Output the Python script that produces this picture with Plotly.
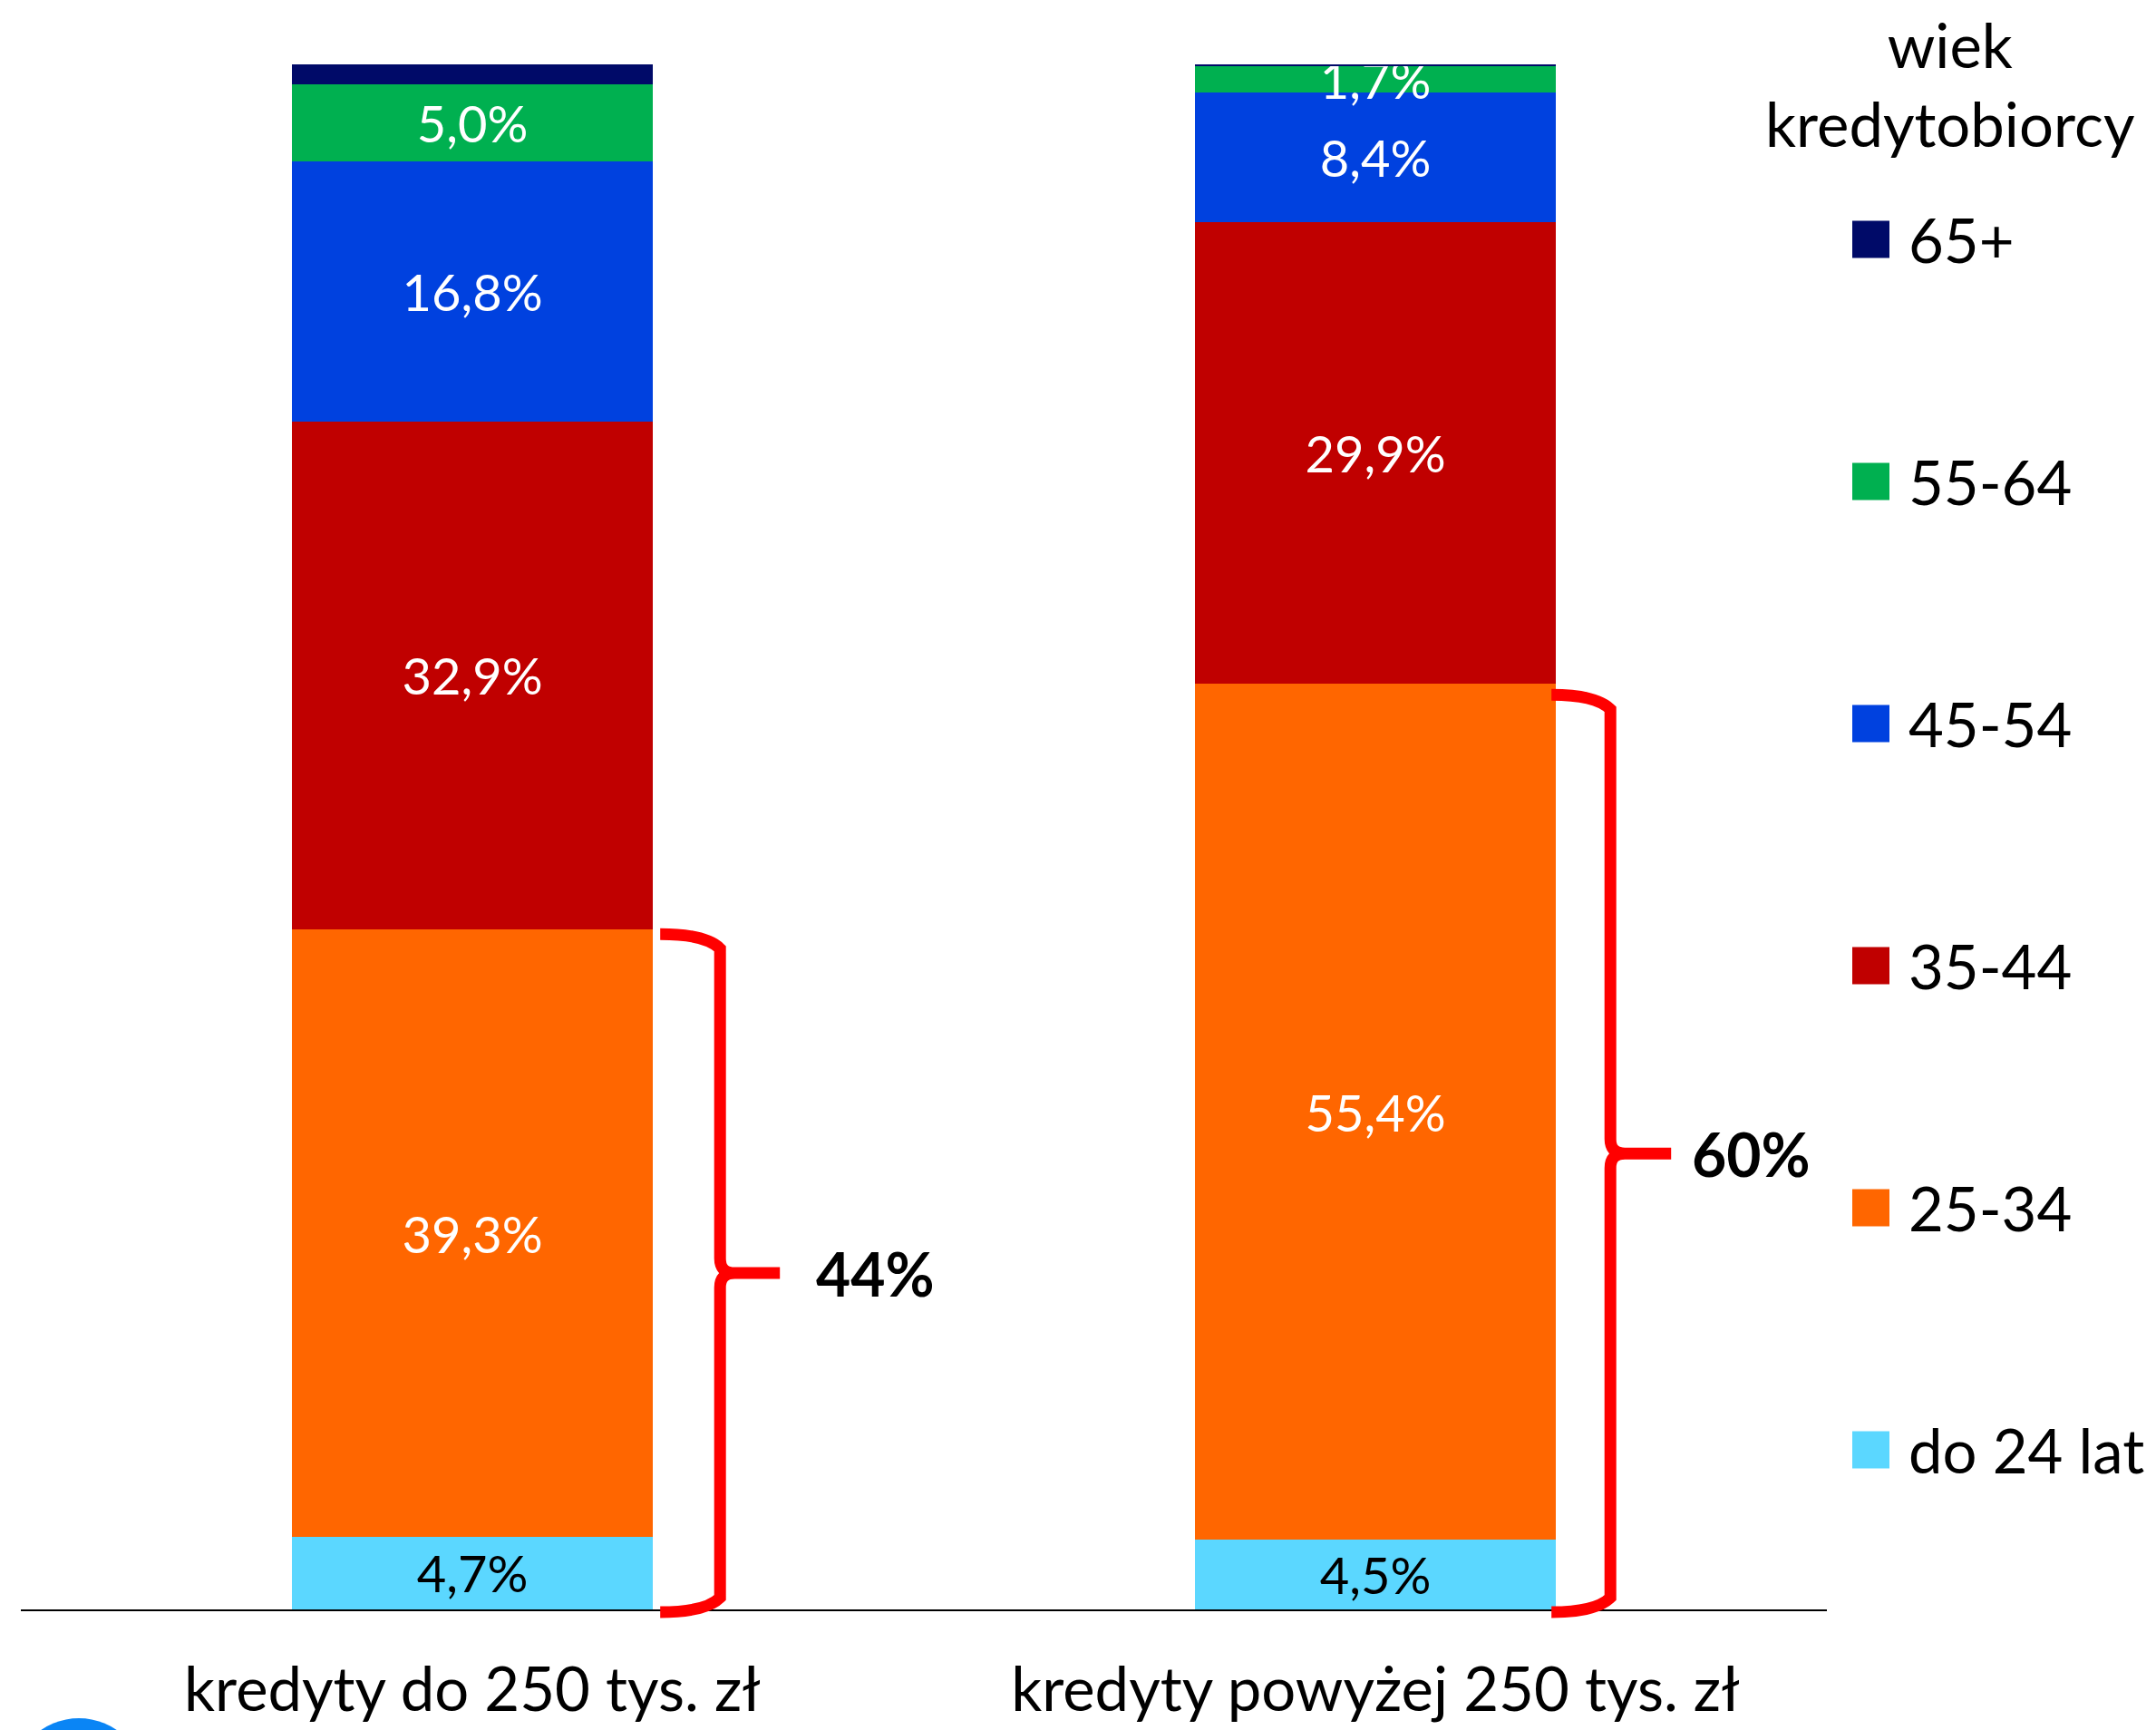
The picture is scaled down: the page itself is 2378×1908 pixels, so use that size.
import plotly.graph_objects as go

# ---------------- data ----------------
categories = ["kredyty do 250 tys. zł", "kredyty powyżej 250 tys. zł"]
age_groups = ["do 24 lat", "25-34", "35-44", "45-54", "55-64", "65+"]
share_do_24 = [4.7, 4.5]
share_25_34 = [39.3, 55.4]
share_35_44 = [32.9, 29.9]
share_45_54 = [16.8, 8.4]
share_55_64 = [5.0, 1.7]
share_65_plus = [1.3, 0.1]
legend_title = "wiek<br>kredytobiorcy"

series = [share_do_24, share_25_34, share_35_44, share_45_54, share_55_64, share_65_plus]
colors = ["#5BD7FF", "#FF6600", "#C00000", "#0041DF", "#00B050", "#000A68"]
label_colors = ["#000000", "#FFFFFF", "#FFFFFF", "#FFFFFF", "#FFFFFF", "#FFFFFF"]
show_labels = [True, True, True, True, True, False]
young_totals = [a + b for a, b in zip(share_do_24, share_25_34)]

# brace styling per bar (pixel offsets from bar edge / top)
brace_tip = [8, -5]
brace_spine = [74, 60]
brace_cusp = [140, 127]
brace_label_gap = [38, 21]
brace_top_drop = [5, 12]

FONT = "Lato"
W, H = 2378, 1908
PAGE_OFF = 8  # default body margin of the html page
PL, PR, PT, PB = 23, 2015, 71, 1775
M = dict(l=PL - PAGE_OFF, r=W - PR + PAGE_OFF, t=PT - PAGE_OFF, b=H - PB + PAGE_OFF)
plot_w = PR - PL
plot_h = PB - PT
XR = [-0.5, len(categories) - 0.5]
BARGAP = 0.6
xpx = (XR[1] - XR[0]) / plot_w
ypx = 1.0 / plot_h


def fmt(v):
    return f"{v:.1f}".replace(".", ",") + "%"


def sx(px):
    return (px - PL) / plot_w


def sy(py):
    return (PB - py) / plot_h


xs = list(range(len(categories)))
fig = go.Figure()
for name, vals, col, lc, show in zip(age_groups, series, colors, label_colors, show_labels):
    fig.add_trace(go.Bar(
        x=xs, y=vals, name=name,
        marker=dict(color=col, line=dict(width=0)),
        text=[fmt(v) for v in vals] if show else ["" for _ in vals],
        textposition="inside", insidetextanchor="middle",
        textfont=dict(family=FONT, size=56, color=lc),
        showlegend=False, hoverinfo="skip",
    ))

shapes = []
annotations = []

half = (1 - BARGAP) / 2
for i, tot in enumerate(young_totals):
    xe = i + half
    x0 = xe + brace_tip[i] * xpx
    xsp = xe + brace_spine[i] * xpx
    xc = xe + brace_cusp[i] * xpx
    yT = tot / 100.0 - brace_top_drop[i] * ypx
    yB = -3 * ypx
    yM = (yT + yB) / 2
    rx, ry = 16 * xpx, 16 * ypx
    path = (f"M {x0},{yT} Q {xsp - rx},{yT} {xsp},{yT - ry} "
            f"L {xsp},{yM + ry} Q {xsp},{yM} {xsp + rx},{yM} L {xc},{yM} "
            f"M {xsp + rx},{yM} Q {xsp},{yM} {xsp},{yM - ry} "
            f"L {xsp},{yB + ry} Q {xsp - rx},{yB} {x0},{yB}")
    shapes.append(dict(type="path", path=path, xref="x", yref="paper",
                       line=dict(color="#FF0000", width=13)))
    annotations.append(dict(x=xc + brace_label_gap[i] * xpx, y=yM, xref="x", yref="paper",
                            text=f"<b>{round(tot)}%</b>", showarrow=False,
                            xanchor="left", yanchor="middle",
                            font=dict(family=FONT, size=66, color="#000000")))

annotations.append(dict(x=sx(2150), y=sy(92), xref="paper", yref="paper",
                        text=legend_title, showarrow=False, align="center",
                        xanchor="center", yanchor="middle",
                        font=dict(family=FONT, size=67, color="#000000")))
for k, (name, col) in enumerate(zip(reversed(age_groups), reversed(colors))):
    cy = 264 + k * 267
    shapes.append(dict(type="rect", xref="paper", yref="paper",
                       x0=sx(2043), x1=sx(2084),
                       y0=sy(cy + 20.5), y1=sy(cy - 20.5),
                       fillcolor=col, line=dict(width=0)))
    annotations.append(dict(x=sx(2103), y=sy(cy), xref="paper", yref="paper",
                            text=name, showarrow=False, xanchor="left", yanchor="middle",
                            font=dict(family=FONT, size=67, color="#000000")))

shapes.append(dict(type="circle", xref="paper", yref="paper",
                   x0=sx(87 - 73), x1=sx(87 + 73),
                   y0=sy(1968 + 73), y1=sy(1968 - 73),
                   fillcolor="#0A85F5", line=dict(width=0)))

fig.update_layout(
    width=W, height=H,
    margin=dict(M, autoexpand=False),
    barmode="stack", bargap=BARGAP,
    plot_bgcolor="white", paper_bgcolor="white",
    showlegend=False,
    uniformtext=dict(minsize=56, mode="show"),
    font=dict(family=FONT, color="#000000"),
    shapes=shapes, annotations=annotations,
    xaxis=dict(range=XR, tickvals=xs, ticktext=categories,
               showline=True, linecolor="#000000", linewidth=2,
               showgrid=False, zeroline=False, ticks="", automargin=False,
               ticklabelstandoff=30,
               tickfont=dict(family=FONT, size=67, color="#000000")),
    yaxis=dict(range=[0, 100], visible=False, showgrid=False, zeroline=False,
               automargin=False),
)

fig.write_html("out.html")
